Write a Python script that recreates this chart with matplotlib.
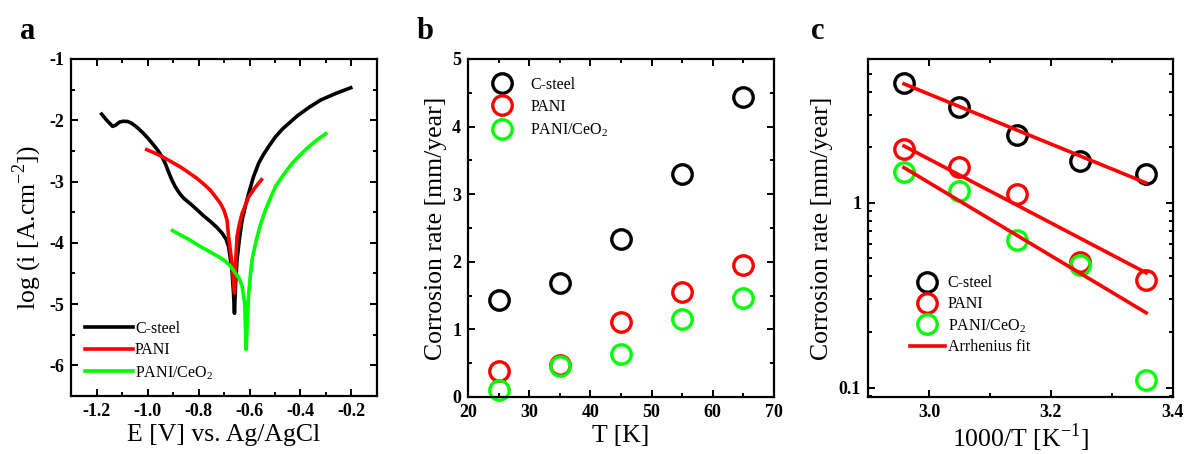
import numpy as np
import matplotlib
matplotlib.use("Agg")
import matplotlib.pyplot as plt
from matplotlib.ticker import MultipleLocator, LogLocator, FixedLocator, FixedFormatter, NullFormatter, FormatStrFormatter

plt.rcParams["font.family"] = ["Liberation Serif", "DejaVu Serif"]
plt.rcParams["mathtext.fontset"] = "custom"
plt.rcParams["mathtext.rm"] = "Liberation Serif"
plt.rcParams["axes.unicode_minus"] = False

# panel a: Tafel curves (E in V, log i)
steel_E = [-1.180, -1.160, -1.137, -1.125, -1.110, -1.095, -1.078, -1.062, -1.040, -1.017,
           -0.997, -0.977, -0.960, -0.944, -0.930, -0.918, -0.905, -0.892, -0.875, -0.859,
           -0.830, -0.806, -0.780, -0.754, -0.730, -0.708, -0.692, -0.682, -0.669, -0.663,
           -0.659, -0.655, -0.649, -0.640, -0.629, -0.615, -0.603, -0.585, -0.564, -0.544,
           -0.520, -0.498, -0.470, -0.432, -0.413, -0.370, -0.321, -0.260, -0.203]
steel_logi = [-1.90, -2.00, -2.10, -2.08, -2.03, -2.016, -2.02, -2.05, -2.12, -2.21,
              -2.30, -2.40, -2.49, -2.59, -2.71, -2.84, -2.97, -3.08, -3.19, -3.27,
              -3.37, -3.46, -3.56, -3.65, -3.74, -3.84, -3.94, -4.06, -4.44, -4.80,
              -5.15, -4.70, -4.28, -3.95, -3.63, -3.38, -3.19, -2.93, -2.70, -2.55,
              -2.40, -2.27, -2.14, -2.00, -1.93, -1.80, -1.67, -1.56, -1.47]
pani_E = [-1.003, -0.975, -0.944, -0.910, -0.872, -0.840, -0.806, -0.780, -0.754, -0.735,
          -0.715, -0.700, -0.688, -0.682, -0.669, -0.659, -0.654, -0.649, -0.640, -0.629,
          -0.615, -0.603, -0.580, -0.553]
pani_logi = [-2.48, -2.53, -2.59, -2.67, -2.76, -2.85, -2.95, -3.04, -3.14, -3.24,
             -3.35, -3.47, -3.63, -3.90, -4.33, -4.82, -4.30, -3.90, -3.70, -3.52,
             -3.37, -3.25, -3.11, -2.97]
ceo2_E = [-0.902, -0.872, -0.840, -0.793, -0.750, -0.720, -0.695, -0.675, -0.656, -0.640,
          -0.629, -0.619, -0.613, -0.608, -0.603, -0.597, -0.590, -0.580, -0.570, -0.555,
          -0.537, -0.518, -0.498, -0.465, -0.432, -0.400, -0.367, -0.335, -0.301]
ceo2_logi = [-3.80, -3.87, -3.94, -4.06, -4.16, -4.23, -4.30, -4.38, -4.49, -4.58,
             -4.71, -4.98, -5.74, -5.20, -4.82, -4.55, -4.28, -4.08, -3.90, -3.68,
             -3.46, -3.27, -3.08, -2.88, -2.70, -2.56, -2.43, -2.32, -2.22]

# panel b: corrosion rate vs T
T = [25, 35, 45, 55, 65]
rate_steel = [1.44, 1.68, 2.34, 3.30, 4.44]
rate_pani = [0.38, 0.48, 1.11, 1.56, 1.95]
rate_ceo2 = [0.11, 0.46, 0.63, 1.16, 1.46]

# panel c: Arrhenius plot
invT = [3.356, 3.247, 3.145, 3.049, 2.959]
fit_x = [2.959, 3.356]
fit_steel = [4.40, 1.28]
fit_pani = [2.03, 0.418]
fit_ceo2 = [1.55, 0.254]

black = "#000000"
red = "#ff0000"
green = "#00ff00"
names = ["C-steel", "PANI", "PANI/CeO$_2$"]

fig = plt.figure(figsize=(11.84, 4.54), dpi=100)
ax_a = fig.add_axes([0.0600, 0.1278, 0.2584, 0.7423])
ax_b = fig.add_axes([0.3953, 0.1256, 0.2584, 0.7445])
ax_c = fig.add_axes([0.7331, 0.1256, 0.2576, 0.7445])


def style(ax):
    for s in ax.spines.values():
        s.set_linewidth(1.6)
    ax.tick_params(which="both", direction="in", top=True, right=True, width=1.4)
    ax.tick_params(which="major", length=5, labelsize=13, pad=5)
    ax.tick_params(which="minor", length=3)
    for lab in ax.get_xticklabels() + ax.get_yticklabels():
        lab.set_fontweight("bold")


# a
ax_a.plot(steel_E, steel_logi, color=black, lw=2.6, label=names[0])
ax_a.plot(pani_E, pani_logi, color=red, lw=2.6, label=names[1])
ax_a.plot(ceo2_E, ceo2_logi, color=green, lw=2.6, label=names[2])
ax_a.set_xlim(-1.3, -0.1)
ax_a.set_ylim(-6.5, -1)
ax_a.xaxis.set_major_locator(FixedLocator([-1.2, -1.0, -0.8, -0.6, -0.4, -0.2]))
ax_a.xaxis.set_major_formatter(FormatStrFormatter("%.1f"))
ax_a.xaxis.set_minor_locator(MultipleLocator(0.1))
ax_a.yaxis.set_major_locator(MultipleLocator(1))
ax_a.yaxis.set_minor_locator(MultipleLocator(0.5))
ax_a.set_xlabel("E [V] vs. Ag/AgCl", fontsize=18.5, labelpad=3)
ax_a.set_ylabel("log (i [A.cm$^{-2}$])", fontsize=18.5)
ax_a.legend(loc="lower left", frameon=False, fontsize=11.5, handlelength=3.0,
            handletextpad=0.1, labelspacing=0.35, borderaxespad=0.5)
style(ax_a)

# b
mk = dict(marker="o", ms=14, mfc="none", mew=2.4, ls="none", clip_on=False)
ax_b.plot(T, rate_steel, mec=black, label=names[0], **mk)
ax_b.plot(T, rate_pani, mec=red, label=names[1], **mk)
ax_b.plot(T, rate_ceo2, mec=green, label=names[2], **mk)
ax_b.set_xlim(20, 70)
ax_b.set_ylim(0, 5)
ax_b.xaxis.set_major_locator(MultipleLocator(10))
ax_b.xaxis.set_minor_locator(MultipleLocator(5))
ax_b.yaxis.set_major_locator(MultipleLocator(1))
ax_b.yaxis.set_minor_locator(MultipleLocator(0.5))
ax_b.set_xlabel("T [K]", fontsize=18.5, labelpad=3)
ax_b.set_ylabel("Corrosion rate [mm/year]", fontsize=18.5)
ax_b.legend(loc="upper left", frameon=False, fontsize=11.5, handletextpad=0.8,
            labelspacing=0.4, borderaxespad=0.7)
style(ax_b)

# c
ax_c.plot(invT, rate_steel, mec=black, label=names[0], **mk)
ax_c.plot(invT, rate_pani, mec=red, label=names[1], **mk)
ax_c.plot(invT, rate_ceo2, mec=green, label=names[2], **mk)
ax_c.plot(fit_x, fit_steel, color=red, lw=2.6, label="Arrhenius fit")
ax_c.plot(fit_x, fit_pani, color=red, lw=2.6)
ax_c.plot(fit_x, fit_ceo2, color=red, lw=2.6)
ax_c.set_yscale("log")
ax_c.set_xlim(2.9, 3.4)
ax_c.set_ylim(0.089, 6.0)
ax_c.xaxis.set_major_locator(MultipleLocator(0.2))
ax_c.xaxis.set_minor_locator(MultipleLocator(0.1))
ax_c.xaxis.set_major_formatter(FormatStrFormatter("%.1f"))
ax_c.yaxis.set_major_locator(FixedLocator([0.1, 1]))
ax_c.yaxis.set_major_formatter(FixedFormatter(["0.1", "1"]))
ax_c.yaxis.set_minor_locator(LogLocator(base=10, subs=np.arange(2, 10)))
ax_c.yaxis.set_minor_formatter(NullFormatter())
ax_c.set_xlabel("1000/T [K$^{-1}$]", fontsize=18.5, labelpad=0)
ax_c.set_ylabel("Corrosion rate [mm/year]", fontsize=18.5)
ax_c.legend(loc="lower left", frameon=False, fontsize=11.5, handlelength=2.2,
            handletextpad=0.2, labelspacing=0.3, borderaxespad=2.2)
style(ax_c)

for ax, letter, x in [(ax_a, "a", 0.017), (ax_b, "b", 0.352), (ax_c, "c", 0.685)]:
    fig.text(x, 0.915, letter, fontsize=22, fontweight="bold")

fig.savefig("out.png", dpi=100)
